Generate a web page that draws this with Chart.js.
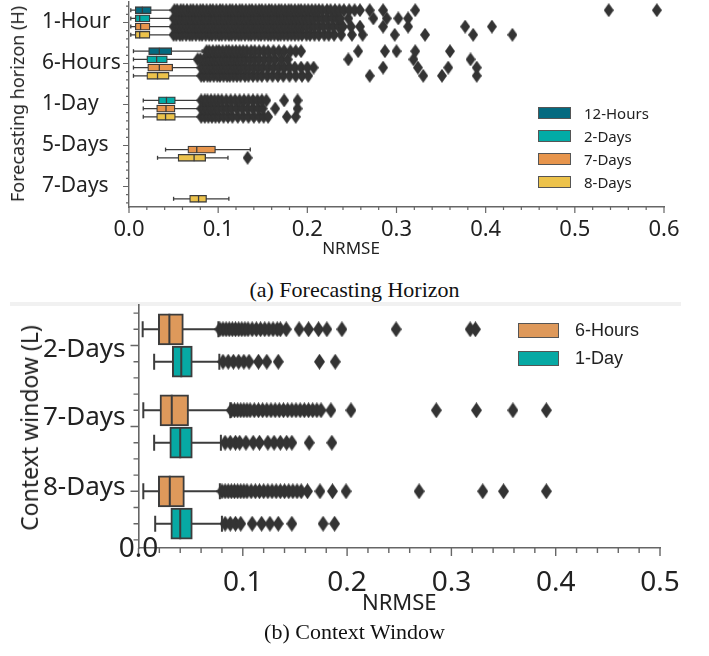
<!DOCTYPE html>
<html><head><meta charset="utf-8">
<script src="https://cdn.jsdelivr.net/npm/chart.js@4.4.1/dist/chart.umd.min.js"></script>
<style>
html,body{margin:0;padding:0;background:#fff;width:709px;height:656px;overflow:hidden;font-family:'Noto Sans',sans-serif;}
.wrap{position:absolute;left:0;width:709px;}
.ytitle{position:absolute;transform:translate(-50%,-50%) rotate(-90deg);white-space:nowrap;color:#222;font-family:'Noto Sans',sans-serif;}
.xtitle{position:absolute;transform:translate(-50%,-50%);white-space:nowrap;color:#222;font-family:'Noto Sans',sans-serif;line-height:1;}
.caption{position:absolute;left:0;width:709px;text-align:center;font-family:'Liberation Serif',serif;font-size:22px;color:#111;}
.lrow{position:absolute;white-space:nowrap;color:#222;}
.sw{position:absolute;box-sizing:border-box;border:1.3px solid #555;}
.band{position:absolute;left:10px;top:302px;width:671px;height:4px;background:#f1f1f1;}
</style></head>
<body>
<div class="wrap" style="top:0;height:262px"><canvas id="c1" width="709" height="262"></canvas></div>
<div class="ytitle" style="left:17px;top:104px;font-size:18px">Forecasting horizon (H)</div>
<div class="xtitle" style="left:351px;top:247px;font-size:17px">NRMSE</div>
<div id="legA"></div>
<div class="caption" style="top:277px">(a) Forecasting Horizon</div>
<div class="band"></div>
<div class="wrap" style="top:300px;height:320px"><canvas id="c2" width="709" height="320"></canvas></div>
<div class="ytitle" style="left:29px;top:428px;font-size:23px">Context window (L)</div>
<div id="legB"></div>
<div class="caption" style="top:619px">(b) Context Window</div>
<script>
// ---------------- (a) Forecasting Horizon ----------------
const horizonLabels = ['1-Hour', '6-Hours', '1-Day', '5-Days', '7-Days'];
const contextNamesA = ['12-Hours', '2-Days', '7-Days', '8-Days'];
const xTicksA = [0.0, 0.1, 0.2, 0.3, 0.4, 0.5, 0.6];
// [lower whisker, Q1, median, Q3, upper whisker] for each horizon (null = not evaluated)
const box12Hours = [[0.002, 0.007, 0.015, 0.025, 0.049], [0.005, 0.022, 0.034, 0.048, 0.082], null, null, null];
const box2Days   = [[0.002, 0.007, 0.012, 0.0235, 0.048], [0.005, 0.020, 0.031, 0.043, 0.076], [0.016, 0.033, 0.042, 0.052, 0.079], null, null];
const box7Days   = [[0.002, 0.007, 0.013, 0.0235, 0.048], [0.005, 0.021, 0.034, 0.049, 0.080], [0.016, 0.031, 0.0415, 0.0516, 0.079], [0.041, 0.066, 0.076, 0.097, 0.136], null];
const box8Days   = [[0.002, 0.007, 0.012, 0.0235, 0.048], [0.005, 0.020, 0.032, 0.045, 0.080], [0.016, 0.031, 0.041, 0.052, 0.079], [0.032, 0.055, 0.073, 0.086, 0.111], [0.050, 0.068, 0.078, 0.087, 0.112]];
// outliers (fliers) for each horizon
const out12Hours = [
  [0.051,0.054,0.058,0.061,0.065,0.069,0.072,0.076,0.080,0.083,0.087,0.091,0.094,0.098,0.102,0.105,0.109,0.113,0.116,0.120,0.124,0.127,0.131,0.135,0.138,0.142,0.146,0.149,0.153,0.157,0.160,0.164,0.168,0.171,0.175,0.179,0.182,0.186,0.190,0.193,0.197,0.201,0.205,0.209,0.213,0.217,0.222,0.226,0.231,0.236,0.241,0.247,0.253,0.259,0.270,0.285,0.321,0.538,0.592],
  [0.087,0.090,0.094,0.098,0.101,0.105,0.109,0.112,0.116,0.120,0.124,0.128,0.132,0.137,0.141,0.146,0.151,0.156,0.162,0.168,0.174,0.181,0.187,0.193,0.257,0.287,0.300,0.321,0.360],
  [], [], []];
const out2Days = [
  [0.050,0.053,0.057,0.061,0.064,0.068,0.072,0.075,0.079,0.083,0.086,0.090,0.094,0.097,0.101,0.105,0.108,0.112,0.116,0.119,0.123,0.127,0.130,0.134,0.138,0.141,0.145,0.149,0.152,0.156,0.160,0.163,0.167,0.171,0.174,0.178,0.182,0.186,0.190,0.194,0.198,0.202,0.207,0.212,0.217,0.222,0.228,0.233,0.237,0.246,0.274,0.289,0.302,0.313],
  [0.077,0.080,0.084,0.088,0.091,0.095,0.099,0.102,0.106,0.110,0.114,0.118,0.122,0.126,0.131,0.136,0.141,0.146,0.152,0.158,0.164,0.171,0.178,0.246,0.319,0.383],
  [0.081,0.085,0.088,0.092,0.096,0.100,0.104,0.109,0.114,0.119,0.124,0.129,0.134,0.139,0.144,0.149,0.154,0.174,0.189],
  [], []];
const out7Days = [
  [0.050,0.054,0.057,0.061,0.065,0.068,0.072,0.076,0.079,0.083,0.087,0.090,0.094,0.098,0.101,0.105,0.109,0.112,0.116,0.120,0.123,0.127,0.131,0.134,0.138,0.142,0.145,0.149,0.153,0.156,0.160,0.164,0.167,0.171,0.175,0.179,0.183,0.187,0.191,0.195,0.199,0.204,0.208,0.213,0.218,0.224,0.229,0.235,0.240,0.249,0.259,0.285,0.313,0.377,0.407],
  [0.081,0.084,0.088,0.092,0.095,0.099,0.103,0.106,0.110,0.114,0.118,0.122,0.126,0.130,0.135,0.140,0.145,0.150,0.156,0.162,0.168,0.174,0.180,0.186,0.193,0.200,0.207,0.285,0.324,0.358,0.390],
  [0.081,0.084,0.088,0.092,0.096,0.100,0.105,0.110,0.115,0.121,0.127,0.133,0.139,0.145,0.150,0.164,0.189],
  [], []];
const out8Days = [
  [0.050,0.053,0.057,0.060,0.064,0.068,0.071,0.075,0.079,0.082,0.086,0.090,0.093,0.097,0.101,0.104,0.108,0.112,0.115,0.119,0.123,0.126,0.130,0.134,0.137,0.141,0.145,0.148,0.152,0.156,0.159,0.163,0.167,0.170,0.174,0.178,0.182,0.186,0.190,0.194,0.199,0.203,0.208,0.213,0.219,0.224,0.230,0.238,0.250,0.262,0.298,0.332,0.386,0.430],
  [0.081,0.084,0.088,0.091,0.095,0.099,0.102,0.106,0.110,0.113,0.117,0.121,0.125,0.130,0.134,0.139,0.144,0.149,0.155,0.161,0.167,0.173,0.180,0.187,0.194,0.201,0.270,0.330,0.351,0.390],
  [0.081,0.085,0.089,0.093,0.097,0.101,0.106,0.111,0.116,0.122,0.128,0.134,0.140,0.146,0.151,0.156,0.177,0.187],
  [0.133],
  []];

// ---------------- (b) Context Window ----------------
const windowLabels = ['2-Days', '7-Days', '8-Days'];
const horizonNamesB = ['6-Hours', '1-Day'];
const xTicksB = [0.0, 0.1, 0.2, 0.3, 0.4, 0.5];
const box6Hours = [[0.004, 0.019, 0.0296, 0.043, 0.0766], [0.0046, 0.0206, 0.0319, 0.048, 0.088], [0.0046, 0.019, 0.030, 0.044, 0.078]];
const box1Day   = [[0.015, 0.0324, 0.041, 0.0516, 0.0775], [0.015, 0.030, 0.040, 0.0516, 0.079], [0.016, 0.031, 0.040, 0.0516, 0.080]];
const out6Hours = [
  [0.078,0.081,0.084,0.087,0.090,0.093,0.096,0.099,0.102,0.105,0.109,0.113,0.117,0.121,0.125,0.129,0.133,0.136,0.1416,0.154,0.163,0.1726,0.1806,0.195,0.247,0.318,0.323],
  [0.089,0.092,0.095,0.098,0.101,0.104,0.107,0.111,0.115,0.119,0.123,0.127,0.131,0.135,0.139,0.143,0.147,0.151,0.155,0.159,0.163,0.167,0.171,0.175,0.1845,0.2037,0.2855,0.324,0.359,0.391],
  [0.080,0.083,0.086,0.089,0.092,0.095,0.098,0.101,0.104,0.108,0.112,0.116,0.120,0.124,0.128,0.132,0.136,0.140,0.144,0.148,0.152,0.156,0.162,0.174,0.186,0.199,0.269,0.330,0.350,0.391]];
const out1Day = [
  [0.081,0.086,0.091,0.096,0.101,0.106,0.115,0.123,0.134,0.1735,0.1886],
  [0.083,0.088,0.093,0.097,0.103,0.110,0.116,0.124,0.130,0.136,0.142,0.147,0.1636,0.1854],
  [0.083,0.088,0.093,0.098,0.109,0.118,0.126,0.134,0.147,0.177,0.188]];

// ---------------- styling ----------------
const paletteA = ['#046a80', '#03aba6', '#e7954c', '#ecc24b'];
const paletteB = ['#de995b', '#07a9a4'];
const lineCol = '#3c3c3c';

function makeDiamond(w, h, color) {
  const c = document.createElement('canvas');
  c.width = w; c.height = h;
  const g = c.getContext('2d');
  g.fillStyle = color;
  g.beginPath(); g.moveTo(w / 2, 0); g.lineTo(w, h / 2); g.lineTo(w / 2, h); g.lineTo(0, h / 2); g.closePath(); g.fill();
  return c;
}

function buildDatasets(boxSets, outSets, colors, offsets, st) {
  const ds = [];
  boxSets.forEach((boxes, h) => {
    const bars = [], whisk = [], caps = [], meds = [], outs = [];
    boxes.forEach((b, i) => {
      if (!b) return;
      const yv = i + offsets[h];
      bars.push({x: [b[1], b[3]], y: yv});
      whisk.push({x: b[0], y: yv}, {x: b[4], y: yv}, {x: null, y: null});
      caps.push({x: b[0], y: yv}, {x: b[4], y: yv});
      meds.push({x: b[2], y: yv});
    });
    outSets[h].forEach((arr, i) => arr.forEach(v => outs.push({x: v, y: i + offsets[h]})));
    ds.push({type: 'scatter', data: whisk, showLine: true, spanGaps: false, borderColor: lineCol, borderWidth: st.lw, pointRadius: 0, order: 5});
    ds.push({type: 'bar', indexAxis: 'y', data: bars, grouped: false, barThickness: st.bar, backgroundColor: colors[h], borderColor: lineCol, borderWidth: st.lw, borderSkipped: false, order: 4});
    ds.push({type: 'scatter', data: caps, pointStyle: 'line', rotation: 90, pointRadius: st.cap, pointBorderColor: lineCol, pointBorderWidth: st.lw, order: 3});
    ds.push({type: 'scatter', data: meds, pointStyle: 'line', rotation: 90, pointRadius: st.med, pointBorderColor: lineCol, pointBorderWidth: st.lw, order: 3});
    ds.push({type: 'scatter', data: outs, pointStyle: st.diamond, pointRadius: 5, order: 2});
  });
  return ds;
}

const axisMarks = {
  id: 'axisMarks',
  afterDraw(chart, args, o) {
    const {ctx} = chart; const x = chart.scales.x, y = chart.scales.y;
    ctx.save();
    ctx.strokeStyle = o.color; ctx.lineWidth = o.width;
    ctx.beginPath();
    const nx = Math.round(o.xMax / o.xStep);
    for (let i = 0; i <= nx; i++) {
      const px = x.getPixelForValue(i * o.xStep);
      const len = (i % o.xMajorEvery === 0) ? o.xMajorLen : o.xMinorLen;
      ctx.moveTo(px, y.bottom); ctx.lineTo(px, y.bottom + len);
    }
    const ny = Math.round((o.yMax - o.yMin) / o.yStep);
    for (let j = 0; j <= ny; j++) {
      const v = o.yMin + j * o.yStep;
      const py = y.getPixelForValue(v);
      const major = o.yMajors.some(m => Math.abs(m - v) < 1e-6);
      ctx.moveTo(x.left, py); ctx.lineTo(x.left - (major ? o.yMajorLen : o.yMinorLen), py);
    }
    ctx.stroke();
    if (o.zeroText) {
      ctx.fillStyle = '#222'; ctx.font = o.zeroFont; ctx.textAlign = 'center'; ctx.textBaseline = 'middle';
      ctx.fillText(o.zeroText, x.getPixelForValue(0), y.bottom + o.zeroDy);
    }
    ctx.restore();
  }
};

function noPad(s) { s.paddingLeft = 0; s.paddingRight = 0; s.paddingTop = 0; s.paddingBottom = 0; }

// ---------- chart (a) ----------
new Chart(document.getElementById('c1'), {
  type: 'scatter',
  data: {datasets: buildDatasets([box12Hours, box2Days, box7Days, box8Days], [out12Hours, out2Days, out7Days, out8Days], paletteA, [-0.3, -0.1, 0.1, 0.3],
    {lw: 1.3, bar: 7, cap: 2, med: 3.5, diamond: makeDiamond(10, 14, '#333')})},
  options: {
    responsive: false, animation: false, events: [],
    layout: {autoPadding: false, padding: {left: 42, right: 45, top: 2, bottom: 7}},
    plugins: {legend: {display: false}, tooltip: {enabled: false},
      axisMarks: {color: '#666', width: 1.2, xMax: 0.6, xStep: 0.02, xMajorEvery: 5, xMajorLen: 6, xMinorLen: 3,
        yMin: -0.4, yMax: 4.4, yStep: 0.2, yMajors: [0, 1, 2, 3, 4], yMajorLen: 6, yMinorLen: 3}},
    scales: {
      x: {type: 'linear', min: 0, max: 0.6, offset: false,
        afterBuildTicks: s => { s.ticks = xTicksA.map(v => ({value: v})); },
        afterFit: s => { s.height = 48; noPad(s); },
        grid: {display: false}, border: {display: true, color: '#666', width: 1.4},
        ticks: {padding: 2, color: '#222', font: {family: 'Noto Sans', size: 22}, callback: v => v.toFixed(1), autoSkip: false, maxRotation: 0}},
      y: {type: 'linear', min: -0.5, max: 4.5, reverse: true, offset: false,
        afterBuildTicks: s => { s.ticks = horizonLabels.map((l, i) => ({value: i})); },
        afterFit: s => { s.width = 87; noPad(s); },
        grid: {display: false}, border: {display: true, color: '#666', width: 1.4},
        ticks: {crossAlign: 'far', color: '#222', font: {family: 'Noto Sans', size: 21}, autoSkip: false, callback: (v, i) => horizonLabels[i]}}
    }
  },
  plugins: [axisMarks]
});

// ---------- chart (b) ----------
new Chart(document.getElementById('c2'), {
  type: 'scatter',
  data: {datasets: buildDatasets([box6Hours, box1Day], [out6Hours, out1Day], paletteB, [-0.2, 0.2],
    {lw: 2, bar: 31, cap: 8, med: 15.5, diamond: makeDiamond(11, 16, '#333')})},
  options: {
    responsive: false, animation: false, events: [],
    layout: {autoPadding: false, padding: {left: 43, right: 49, top: 5, bottom: 3}},
    plugins: {legend: {display: false}, tooltip: {enabled: false},
      axisMarks: {color: '#666', width: 1.4, xMax: 0.5, xStep: 0.02, xMajorEvery: 5, xMajorLen: 8, xMinorLen: 5,
        yMin: -0.4, yMax: 2.4, yStep: 0.2, yMajors: [0, 1, 1.8], yMajorLen: 8, yMinorLen: 5,
        zeroText: '0.0', zeroFont: '28px "Noto Sans"', zeroDy: 1}},
    scales: {
      x: {type: 'linear', min: 0, max: 0.5, offset: false,
        afterBuildTicks: s => { s.ticks = xTicksB.map(v => ({value: v})); },
        afterFit: s => { s.height = 69; noPad(s); },
        grid: {display: false}, border: {display: true, color: '#666', width: 1.6},
        ticks: {padding: 10, color: '#222', font: {family: 'Noto Sans', size: 28}, callback: v => v === 0 ? '' : v.toFixed(1), autoSkip: false, maxRotation: 0},
        title: {display: true, text: 'NRMSE', color: '#222', font: {family: 'Noto Sans', size: 22}, padding: 0}},
      y: {type: 'linear', min: -0.5, max: 2.5, reverse: true, offset: false,
        afterBuildTicks: s => { s.ticks = [0.05, 0.89, 1.75].map(v => ({value: v})); },
        afterFit: s => { s.width = 95.5; noPad(s); },
        grid: {display: false}, border: {display: true, color: '#666', width: 1.6},
        ticks: {crossAlign: 'far', color: '#222', font: {family: 'Noto Sans', size: 26}, autoSkip: false, callback: (v, i) => windowLabels[i]}}
    }
  },
  plugins: [axisMarks]
});

// ---------- legends (HTML) ----------
function legend(el, names, colors, o) {
  names.forEach((n, i) => {
    const cy = o.top + i * o.step;
    const sw = document.createElement('div');
    sw.className = 'sw';
    sw.style.cssText = `left:${o.swLeft}px;top:${cy - o.swH / 2}px;width:${o.swW}px;height:${o.swH}px;background:${colors[i]}`;
    el.appendChild(sw);
    const t = document.createElement('div');
    t.className = 'lrow';
    t.textContent = n;
    t.style.cssText = `left:${o.textLeft}px;top:${cy}px;transform:translateY(-50%);font-family:${o.font};font-size:${o.size}px;line-height:1`;
    el.appendChild(t);
  });
}
legend(document.getElementById('legA'), contextNamesA, paletteA, {top: 113, step: 23, swLeft: 538, swW: 33, swH: 12, textLeft: 584, font: "'Noto Sans'", size: 15});
legend(document.getElementById('legB'), horizonNamesB, paletteB, {top: 330, step: 28, swLeft: 518, swW: 41, swH: 15, textLeft: 575, font: "'Liberation Sans'", size: 18});
</script>
</body></html>
